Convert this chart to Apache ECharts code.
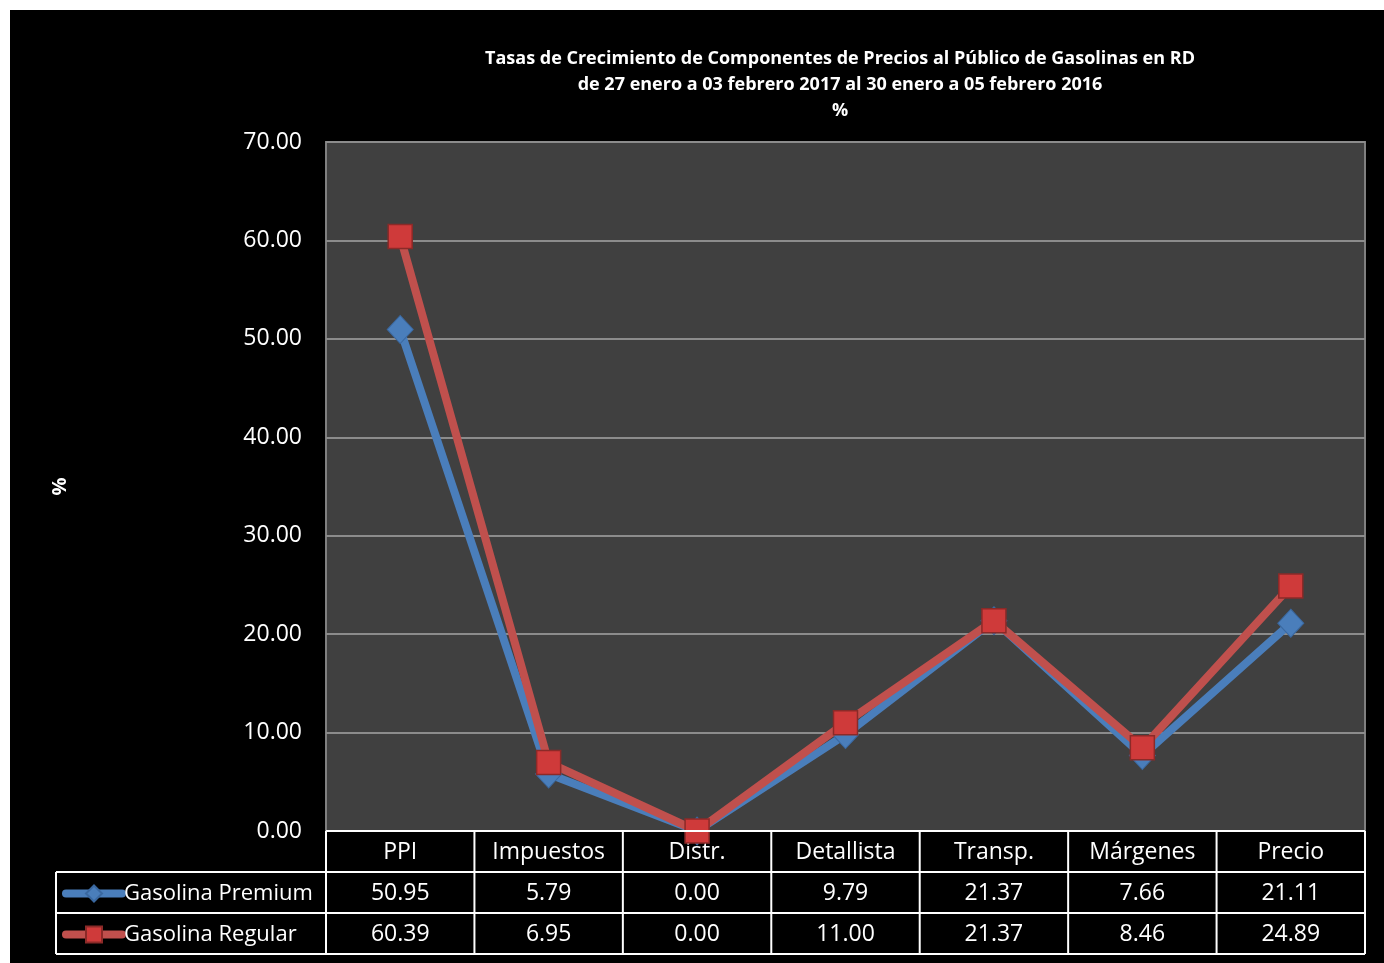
<!DOCTYPE html>
<html><head><meta charset="utf-8">
<script src="https://cdn.jsdelivr.net/npm/echarts@6/dist/echarts.min.js"></script>
<style>html,body{margin:0;padding:0;background:#fff;}#c{position:absolute;left:10px;top:10px;width:1374px;height:953px;background:#000;}</style>
</head><body><div id="c"></div>
<script>
const categories = ['PPI','Impuestos','Distr.','Detallista','Transp.','Márgenes','Precio'];
const premium = [50.95, 5.79, 0.00, 9.79, 21.37, 7.66, 21.11];
const regular = [60.39, 6.95, 0.00, 11.00, 21.37, 8.46, 24.89];
const seriesNames = ['Gasolina Premium','Gasolina Regular'];
const yTicks = {min:0, max:70, interval:10};

const FONT = 'Open Sans';
const W = 1374, H = 953;
const G = {left:316, right:19, top:132, bottom:132};
const ROW = 41;
const chart = echarts.init(document.getElementById('c'), null, {renderer:'canvas'});

const fmt = v => v.toFixed(2);
const lblStyle = {color:'#fff', fontSize:23, fontFamily:FONT, interval:0, verticalAlign:'middle', margin:21};
function catAxis(data, offset){
  return {type:'category', data:data, position:'bottom', offset:offset, gridIndex:0,
    boundaryGap:true, axisLine:{show:false}, axisTick:{show:false},
    axisLabel:Object.assign({}, lblStyle), splitLine:{show:false}};
}

const plotW = W - G.left - G.right;
const band = plotW / categories.length;
const x0 = G.left, x1 = W - G.right;
const yTop = H - G.bottom;
const legendLeft = 46;
const lines = [];
const white = {stroke:'#fff', lineWidth:2};
function hline(y, xa, xb){ lines.push({type:'line', shape:{x1:xa,y1:y,x2:xb,y2:y}, style:white, z:100}); }
function vline(x, ya, yb){ lines.push({type:'line', shape:{x1:x,y1:ya,x2:x,y2:yb}, style:white, z:100}); }
hline(yTop, x0, x1);
hline(yTop+ROW, legendLeft, x1);
hline(yTop+2*ROW, legendLeft, x1);
hline(yTop+3*ROW, legendLeft, x1);
vline(legendLeft, yTop+ROW, yTop+3*ROW);
for(let i=0;i<=categories.length;i++){ vline(x0 + i*band, yTop, yTop+3*ROW); }

function legendFor(i){
  return {orient:'horizontal', left:legendLeft+1, top:yTop+ROW*(i+1)+ROW/2-15, itemWidth:56, itemHeight:20, itemGap:0,
    textStyle:{color:'#fff', fontSize:22, fontFamily:FONT, padding:[0,0,0,-3]},
    lineStyle:{width:8, cap:'round'},
    data:[seriesNames[i]]};
}

chart.setOption({
  backgroundColor:'#000',
  animation:false,
  title:{text:'Tasas de Crecimiento de Componentes de Precios al Público de Gasolinas en RD\nde 27 enero a 03 febrero 2017 al 30 enero a 05 febrero 2016\n%',
    left:825, top:31, textAlign:'center',
    textStyle:{color:'#fff', fontSize:18, fontWeight:'bold', fontFamily:FONT, lineHeight:26}},
  legend:[legendFor(0), legendFor(1)],
  grid:{left:G.left, right:G.right, top:G.top, bottom:G.bottom, show:true, backgroundColor:'#404040', borderColor:'#808080', borderWidth:2},
  xAxis:[catAxis(categories,0), catAxis(premium.map(fmt),ROW), catAxis(regular.map(fmt),2*ROW)],
  yAxis:{type:'value', min:yTicks.min, max:yTicks.max, interval:yTicks.interval,
    axisLine:{show:false}, axisTick:{show:false},
    axisLabel:{color:'#fff', fontSize:23, fontFamily:FONT, margin:24, formatter:v=>v.toFixed(2)},
    splitLine:{lineStyle:{color:'#8c8c8c', width:2}},
    name:'%', nameLocation:'middle', nameRotate:90, nameGap:256,
    nameTextStyle:{color:'#fff', fontSize:20, fontWeight:'bold', fontFamily:FONT}},
  series:[
    {name:seriesNames[0], type:'line', data:premium, xAxisIndex:0, symbol:'diamond', symbolSize:[26,28],
      lineStyle:{color:'#4a7ebb', width:8}, itemStyle:{color:'#4a7ebb', borderColor:'#3a68a0', borderWidth:1}, z:3},
    {name:seriesNames[1], type:'line', data:regular, xAxisIndex:0, symbol:'rect', symbolSize:24,
      lineStyle:{color:'#c0504d', width:8}, itemStyle:{color:'#cf3a3a', borderColor:'#8b2a28', borderWidth:1.5}, z:4}
  ],
  graphic:lines
});
</script></body></html>
